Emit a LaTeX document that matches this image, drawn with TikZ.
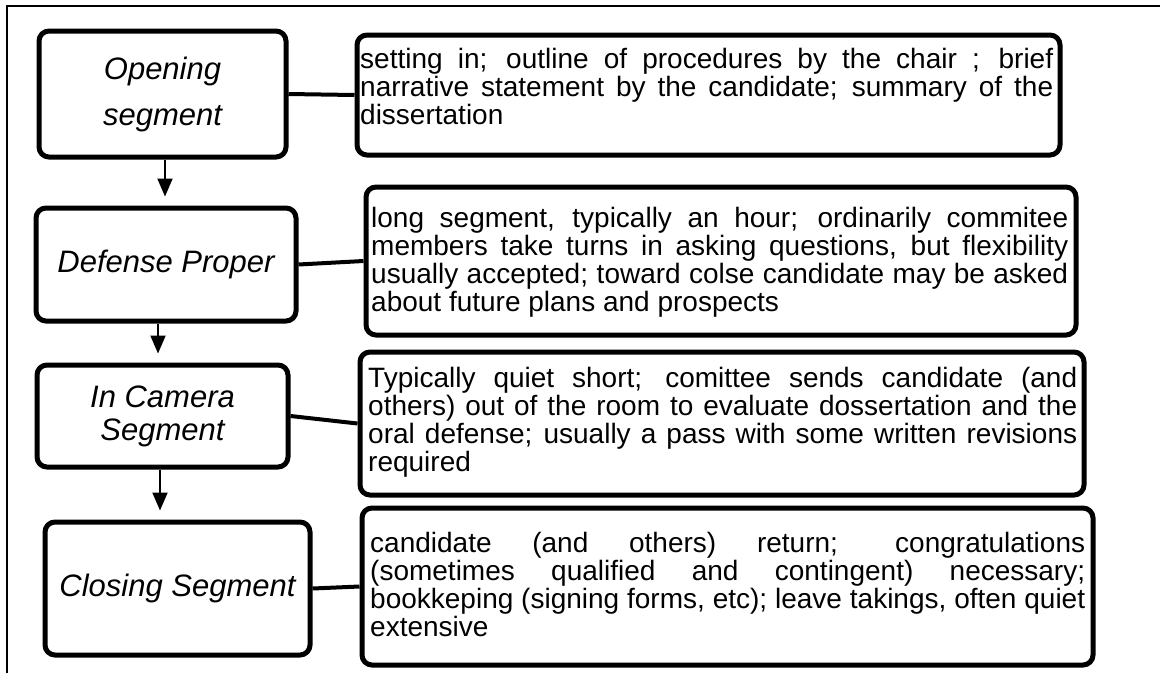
\documentclass[tikz,border=0pt]{standalone}
\usepackage{fontspec}
\setmainfont{Liberation Sans}
\usetikzlibrary{arrows.meta}
\begin{document}
\hyphenpenalty=10000\relax
\exhyphenpenalty=10000\relax
\begin{tikzpicture}[x=1pt,y=-1pt,
  lbl/.style={draw, line width=5pt, rounded corners=10pt, inner sep=0pt, align=center},
  lblfont/.style={font=\fontsize{31}{#1}\selectfont\itshape},
  descbox/.style={draw, line width=5pt, rounded corners=10pt, inner sep=0pt},
  dtext/.style={anchor=north west, inner sep=0pt, align=justify,
    font=\fontsize{28}{28}\selectfont},
  link/.style={line width=4pt},
  arr/.style={line width=2pt, -{Triangle[length=18pt,width=15pt]}, shorten >=9pt}
]
\useasboundingbox (0,0) rectangle (1160,673);
\draw[line width=1.5pt] (7,673) -- (7,6) -- (1160,6);

% left boxes
\node[lbl, lblfont=46, minimum width=247pt, minimum height=126pt] (B1) at (162.5,94) {Opening\\segment};
\node[lbl, lblfont=36, minimum width=260pt, minimum height=113pt] (B2) at (166,264.5) {Defense Proper};
\node[lbl, lblfont=33, minimum width=251pt, minimum height=102pt] (B3) at (162.5,416) {In Camera\\Segment};
\node[lbl, lblfont=36, minimum width=265pt, minimum height=133pt] (B4) at (177.5,588.5) {Closing Segment};

% right boxes
\node[descbox, minimum width=703pt, minimum height=120pt] (T1) at (708.5,95) {};
\node[descbox, minimum width=710pt, minimum height=148pt] (T2) at (721,261) {};
\node[descbox, minimum width=724pt, minimum height=143pt] (T3) at (722,423.5) {};
\node[descbox, minimum width=731pt, minimum height=157pt] (T4) at (727.5,586.5) {};

\node[dtext, text width=693pt] (t1) at (360,48) {setting in; outline of procedures by the chair ; brief\linebreak narrative statement by the candidate; summary of the\linebreak dissertation};
\node[dtext, text width=697pt] (t2) at (371,207) {long segment, typically an hour; ordinarily commitee\linebreak members take turns in asking questions, but flexibility\linebreak usually accepted; toward colse candidate may be asked\linebreak about future plans and prospects};
\node[dtext, text width=709pt] (t3) at (368,367) {Typically quiet short; comittee sends candidate (and\linebreak others) out of the room to evaluate dossertation and the\linebreak oral defense; usually a pass with some written revisions\linebreak required};
\node[dtext, text width=715pt] (t4) at (370,532) {candidate (and others) return; congratulations\linebreak (sometimes qualified and contingent) necessary;\linebreak bookkeping (signing forms, etc); leave takings, often quiet\linebreak extensive};

% connectors
\draw[link] (B1.east) -- (T1.west);
\draw[link] (B2.east) -- (T2.west);
\draw[link] (B3.east) -- (T3.west);
\draw[link] (B4.east) -- (T4.west);

% arrows
\coordinate (x1) at (165,0);
\coordinate (x2) at (158,0);
\coordinate (x3) at (160,0);
\draw[arr] (B1.south -| x1) -- (B2.north -| x1);
\draw[arr] (B2.south -| x2) -- (B3.north -| x2);
\draw[arr] (B3.south -| x3) -- (B4.north -| x3);
\end{tikzpicture}
\end{document}
